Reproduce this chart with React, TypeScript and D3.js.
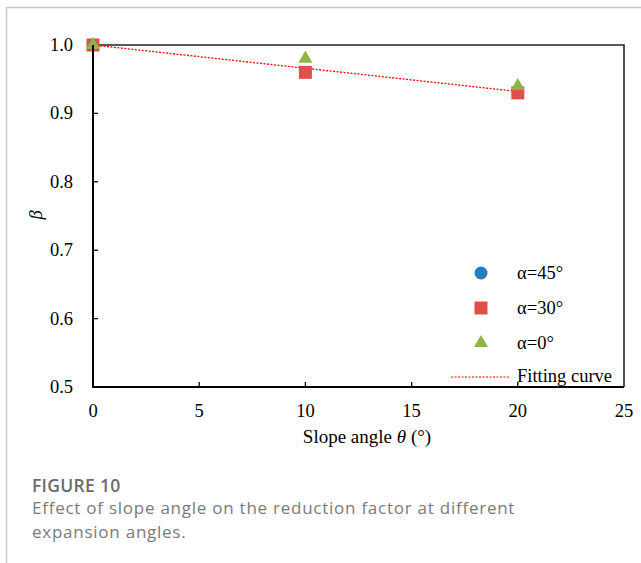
import React from "react";
import * as d3 from "d3";

const slopeAngles = [0, 10, 20];
const alpha45 = [1.0, 0.96, 0.93];
const alpha30 = [1.0, 0.96, 0.93];
const alpha0 = [1.0, 0.98, 0.94];
const fitX = [0, 10, 20];
const fitY = [1.0, 0.966, 0.932];
const xTicks = [0, 5, 10, 15, 20, 25];
const yTicks = [0.5, 0.6, 0.7, 0.8, 0.9, 1.0];
const legendLabels = ["α=45°", "α=30°", "α=0°", "Fitting curve"];

const W = 641, H = 563;
const BLUE = "#2a7ac0", RED = "#e0504b", GREEN = "#8db54a";

export default function App() {
  const x = d3.scaleLinear().domain([0, 25]).range([93, 624]);
  const y = d3.scaleLinear().domain([0.5, 1.0]).range([387, 45]);
  const fitLine = d3.line<number>().x((d, i) => x(fitX[i])).y((d) => y(d))(fitY) || "";
  const tri = d3.symbol().type(d3.symbolTriangle).size(85)() || "";
  const serif = "'Liberation Serif', 'Times New Roman', serif";
  const sans = "'Open Sans', 'Noto Sans', sans-serif";
  const sq = 13;
  const fs = 18.5;
  return (
    <svg width={W} height={H} style={{ position: "absolute", left: 0, top: 0, background: "#fff" }}>
      <path d={`M6.5,${H} V7.5 H${W}`} fill="none" stroke="#c8c8c8" strokeWidth={1.5} />
      {/* plot frame */}
      <path d={`M${x(0)},${y(1)} H${x(25)} V${y(0.5)}`} fill="none" stroke="#222" strokeWidth={1.6} />
      {/* ticks */}
      {yTicks.slice(1, -1).map((t) => (
        <line key={"yt" + t} x1={x(0)} x2={x(0) + 5} y1={y(t)} y2={y(t)} stroke="#000" strokeWidth={1.3} />
      ))}
      {xTicks.slice(1, -1).map((t) => (
        <line key={"xt" + t} x1={x(t)} x2={x(t)} y1={y(0.5)} y2={y(0.5) - 5} stroke="#000" strokeWidth={1.3} />
      ))}
      {yTicks.map((t) => (
        <text key={"yl" + t} x={73} y={y(t) + 6} textAnchor="end" fontFamily={serif} fontSize={fs}>{t.toFixed(1)}</text>
      ))}
      {xTicks.map((t) => (
        <text key={"xl" + t} x={x(t)} y={417} textAnchor="middle" fontFamily={serif} fontSize={fs}>{t}</text>
      ))}
      <text x={367} y={443} textAnchor="middle" fontFamily={serif} fontSize={19}>
        Slope angle <tspan fontStyle="italic">θ</tspan> (°)
      </text>
      <text transform={`translate(42,215) rotate(-90)`} textAnchor="middle" fontFamily={serif} fontSize={fs} fontStyle="italic">β</text>
      {/* fitting curve */}
      <path d={fitLine} fill="none" stroke="#ff0000" strokeWidth={1.3} strokeDasharray="2,1.5" />
      {/* markers */}
      {slopeAngles.map((a, i) => (
        <circle key={"c" + i} cx={x(a)} cy={y(alpha45[i])} r={6} fill={BLUE} />
      ))}
      {slopeAngles.map((a, i) => (
        <rect key={"s" + i} x={x(a) - sq / 2} y={y(alpha30[i]) - sq / 2} width={sq} height={sq} fill={RED} />
      ))}
      {slopeAngles.map((a, i) => (
        <path key={"t" + i} d={tri} transform={`translate(${x(a)},${y(alpha0[i])})`} fill={GREEN} />
      ))}
      {/* axes */}
      <path d={`M${x(0)},${y(1)} V${y(0.5)} H${x(25)}`} fill="none" stroke="#000" strokeWidth={2} />
      {/* legend */}
      <circle cx={481} cy={273} r={6.5} fill={BLUE} />
      <rect x={481 - 6.5} y={308 - 6.5} width={13} height={13} fill={RED} />
      <path d={tri} transform="translate(481,343)" fill={GREEN} />
      <line x1={451} x2={509} y1={377} y2={377} stroke="#ff0000" strokeWidth={1.2} strokeDasharray="2,1.5" />
      {legendLabels.map((l, i) => (
        <text key={l} x={517} y={279 + i * 35 - (i === 3 ? 2 : 0)} fontFamily={serif} fontSize={fs}>{l}</text>
      ))}
      {/* caption */}
      <text x={32} y={492} fontFamily={sans} fontSize={17.5} fontWeight={600} fill="#6b6b6b" letterSpacing={0.3}>FIGURE 10</text>
      <text x={32} y={514} fontFamily={sans} fontSize={17} fill="#7a7a7a" letterSpacing={0.75}>Effect of slope angle on the reduction factor at different</text>
      <text x={32} y={538} fontFamily={sans} fontSize={17} fill="#7a7a7a" letterSpacing={0.75}>expansion angles.</text>
    </svg>
  );
}
